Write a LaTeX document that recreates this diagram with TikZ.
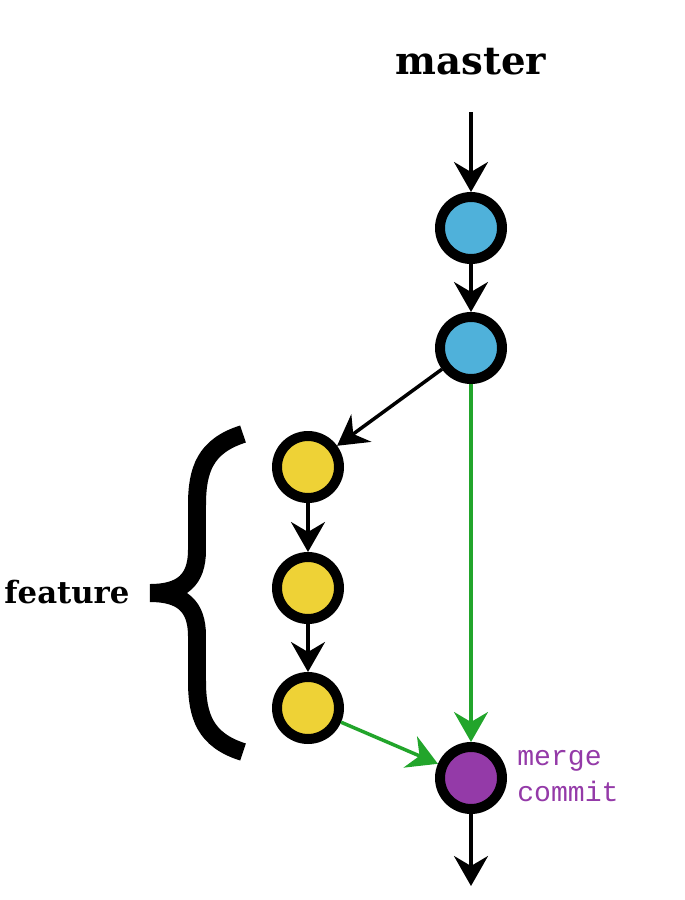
\documentclass[tikz,border=0pt]{standalone}
\usepackage{fontspec}
\setmainfont{DejaVu Serif}
\setmonofont{Liberation Mono}
\usetikzlibrary{arrows.meta}
\definecolor{myblue}{HTML}{4FB1DA}
\definecolor{myyellow}{HTML}{EED236}
\definecolor{mypurple}{HTML}{943AA8}
\definecolor{mygreen}{HTML}{22A52B}

\begin{document}
\begin{tikzpicture}[x=0.02cm,y=-0.02cm]
\tikzset{CommitStyle/.style ={circle, draw=black, line width=0.2cm, minimum size=1.24cm, inner sep=0pt}}
\tikzset{EdgeStyle/.style ={-{Stealth[length=0.6cm,width=0.68cm,inset=0.2cm]}, line width=0.07cm}}
\tikzset{LabelStyle/.style ={font=\bfseries\fontsize{22}{26}\selectfont}}
\useasboundingbox (0,0) rectangle (685,900);
\node[LabelStyle] (master) at (471,62) {master};
\node[LabelStyle, font=\bfseries\fontsize{17.5}{21}\selectfont] (feature) at (67,592) {feature};
\coordinate (start) at (471,112);
\coordinate (end) at (471,886);
\node[CommitStyle, fill=myblue] (c1) at (471,228) {};
\node[CommitStyle, fill=myblue] (c2) at (471,348) {};
\node[CommitStyle, fill=myyellow] (f1) at (308,467) {};
\node[CommitStyle, fill=myyellow] (f2) at (308,588) {};
\node[CommitStyle, fill=myyellow] (f3) at (308,708) {};
\node[CommitStyle, fill=mypurple] (merge) at (471,778) {};
\node[anchor=west, inner sep=0pt, align=left, text=mypurple,
  font=\ttfamily\fontsize{16}{20}\selectfont] (mlabel) at (517,776) {merge\\commit};
\draw[EdgeStyle] (start) -- (c1);
\draw[EdgeStyle] (c1) -- (c2);
\draw[EdgeStyle] (c2) -- (f1);
\draw[EdgeStyle] (f1) -- (f2);
\draw[EdgeStyle] (f2) -- (f3);
\draw[EdgeStyle, color=mygreen] (c2) -- (merge);
\draw[EdgeStyle, color=mygreen] (f3) -- (merge);
\draw[EdgeStyle] (merge) -- (end);
\draw[line width=0.36cm] (243,434) .. controls (205,446) and (197,470) .. (197,505)
  -- (197,550) .. controls (197,580) and (182,593) .. (150,593)
  .. controls (182,593) and (197,606) .. (197,636)
  -- (197,681) .. controls (197,716) and (205,740) .. (243,752);
\end{tikzpicture}
\end{document}
